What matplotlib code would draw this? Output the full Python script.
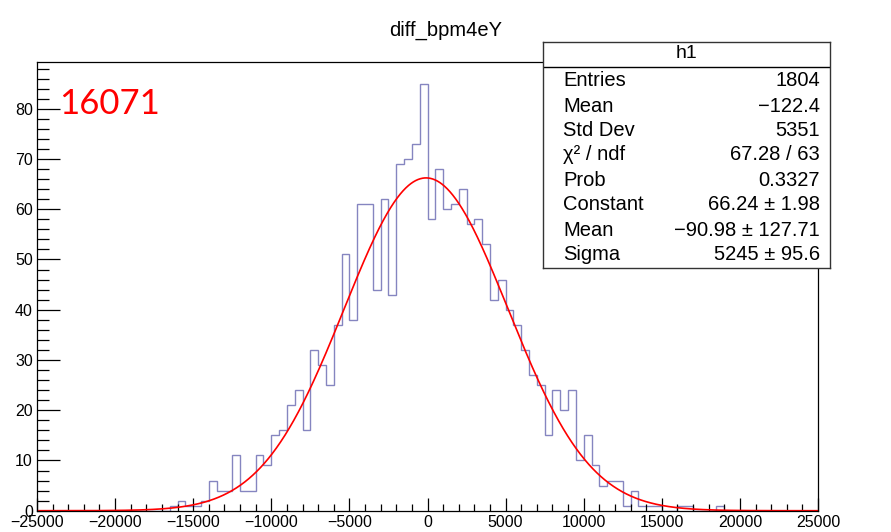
#!/usr/bin/env python
"""
Histogram of diff_bpm4eY with Gaussian fit and ROOT-like stats box.
"""


# Import modules
#-----------------------------------------------------------------------------#
import numpy as np
import matplotlib
matplotlib.use('Agg')
import matplotlib.pyplot as plt
from matplotlib.ticker import MultipleLocator

# Histogram data (100 bins of width 500 from -25000 to 25000)
#-----------------------------------------------------------------------------#
x_min   = -25000
x_max   =  25000
n_bins  = 100
counts  = [0]*17 + \
          [1, 2, 1, 1, 2, 6, 4, 4, 11, 4, 4, 11, 9, 15, 16, 21, 24,
           16, 32, 29, 25, 37, 51, 38, 61, 61, 44, 62, 43, 69, 70, 73, 85,
           58, 68, 60, 61, 64, 57, 58, 53, 42, 46, 40, 37, 32, 27, 25, 15,
           24, 20, 24, 10, 15, 9, 5, 6, 6, 1, 4, 1, 1, 1, 0, 0, 1, 1,
           0, 0, 0, 1] + [0]*12

# Fit results and stats box entries
#-----------------------------------------------------------------------------#
fit_const = 66.24
fit_mean  = -90.98
fit_sigma = 5245.0
stat_names  = ['Entries', 'Mean', 'Std Dev', 'χ² / ndf', 'Prob',
               'Constant', 'Mean', 'Sigma']
stat_values = ['1804', '\u2212122.4', '5351', '67.28 / 63', '0.3327',
               '66.24 \u00b1 1.98', '\u221290.98 \u00b1 127.71', '5245 \u00b1 95.6']
hist_name   = 'h1'
title       = 'diff_bpm4eY'
run_label   = '16071'

# Figure and frame
#-----------------------------------------------------------------------------#
plt.rcParams['font.family'] = ['Liberation Sans', 'DejaVu Sans']
W, H = 891, 532
fig = plt.figure(figsize=(W/100, H/100), dpi=100)
ax  = fig.add_axes([37/W, 1-510.7/H, (818-37)/W, (510.7-62.3)/H])

edges = np.linspace(x_min, x_max, n_bins+1)
ax.stairs(counts, edges, color='#8585c0', linewidth=1.0, baseline=0)

xf = np.linspace(x_min, x_max, 2000)
yf = fit_const*np.exp(-0.5*((xf-fit_mean)/fit_sigma)**2)
ax.plot(xf, yf, color='#ff0000', linewidth=1.2)

ax.set_xlim(x_min, x_max)
ax.set_ylim(0, 1.05*max(counts))
ax.xaxis.set_major_locator(MultipleLocator(5000))
ax.xaxis.set_minor_locator(MultipleLocator(1000))
ax.yaxis.set_major_locator(MultipleLocator(10))
ax.yaxis.set_minor_locator(MultipleLocator(2))
ax.tick_params(axis='both', which='both', direction='in', top=False, right=False,
               labelsize=11.5, width=0.9, color='k')
ax.tick_params(axis='x', which='major', length=9.4, pad=3)
ax.tick_params(axis='x', which='minor', length=4.7)
ax.tick_params(axis='y', which='major', length=16.5, pad=3)
ax.tick_params(axis='y', which='minor', length=8.6)
for sp in ax.spines.values():
    sp.set_linewidth(0.9)

# Title and run number
#-----------------------------------------------------------------------------#
fig.text(446/W, 1-30/H, title, ha='center', va='center', fontsize=14.5)
fig.text(59/W, 1-104/H, run_label, ha='left', va='center', fontsize=25,
         color='#ff0000', family=['Lato', 'DejaVu Sans'])

# Stats box
#-----------------------------------------------------------------------------#
bx0, by0, bx1, by1 = 543, 42, 830, 268
sb = fig.add_axes([bx0/W, 1-by1/H, (bx1-bx0)/W, (by1-by0)/H])
sb.set_xticks([]); sb.set_yticks([])
sb.set_xlim(0, 1); sb.set_ylim(0, 1)
sb.set_facecolor('white')
for sp in sb.spines.values():
    sp.set_linewidth(1.0)
    sp.set_color('#333333')
hline = (by1-67)/(by1-by0)
sb.axhline(hline, color='k', linewidth=1.0)
sb.text(0.5, (by1-54)/(by1-by0), hist_name, ha='center', va='center', fontsize=14)
row_y = [81, 106, 130, 155, 180, 205, 230, 254]
for name, val, ry in zip(stat_names, stat_values, row_y):
    yy = (by1-ry)/(by1-by0)
    sb.text(20/(bx1-bx0), yy, name, ha='left', va='center', fontsize=14.5)
    sb.text(1-10/(bx1-bx0), yy, val, ha='right', va='center', fontsize=14.5)

fig.savefig('out.png', dpi=100)
